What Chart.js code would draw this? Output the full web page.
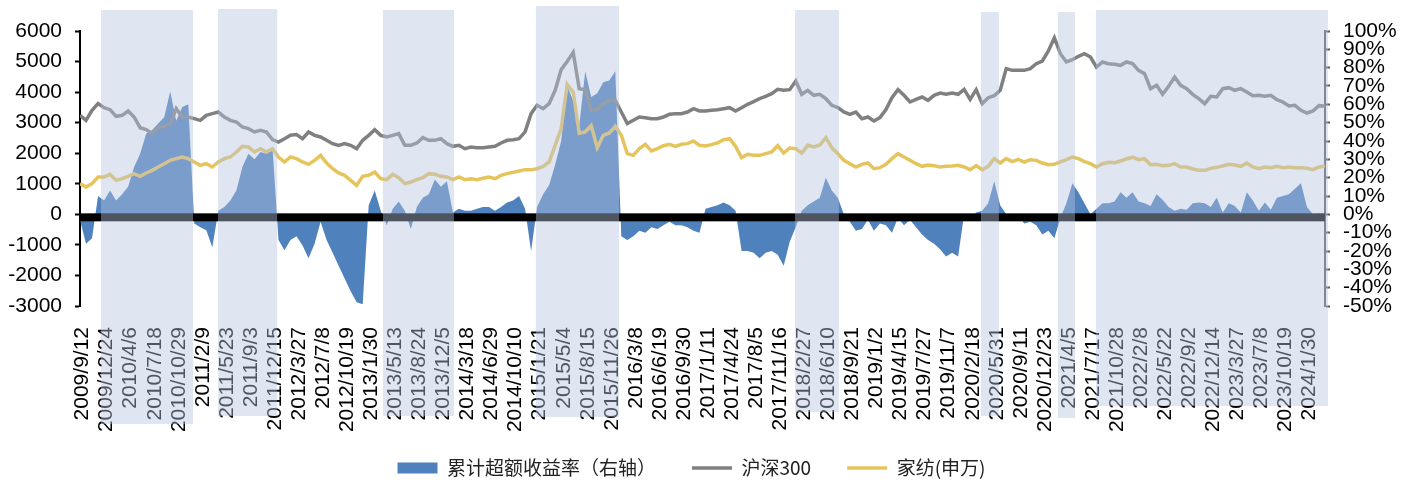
<!DOCTYPE html>
<html>
<head>
<meta charset="utf-8">
<script src="https://cdn.jsdelivr.net/npm/chart.js@4.4.1/dist/chart.umd.min.js"></script>
<style>
  html, body { margin: 0; padding: 0; background: #fff; }
</style>
</head>
<body>
<canvas id="excessChart" width="1411" height="481"></canvas>
<script>
// x-axis labels, one every 103 days
const dateLabels = ['2009/9/12', '2009/12/24', '2010/4/6', '2010/7/18', '2010/10/29', '2011/2/9', '2011/5/23',
  '2011/9/3', '2011/12/15', '2012/3/27', '2012/7/8', '2012/10/19', '2013/1/30', '2013/5/13', '2013/8/24',
  '2013/12/5', '2014/3/18', '2014/6/29', '2014/10/10', '2015/1/21', '2015/5/4', '2015/8/15', '2015/11/26',
  '2016/3/8', '2016/6/19', '2016/9/30', '2017/1/11', '2017/4/24', '2017/8/5', '2017/11/16', '2018/2/27',
  '2018/6/10', '2018/9/21', '2019/1/2', '2019/4/15', '2019/7/27', '2019/11/7', '2020/2/18', '2020/5/31',
  '2020/9/11', '2020/12/23', '2021/4/5', '2021/7/17', '2021/10/28', '2022/2/8', '2022/5/22', '2022/9/2',
  '2022/12/14', '2023/3/27', '2023/7/8', '2023/10/19', '2024/1/30'];

// one reading every 25.75 days (4 per label step), first one on 2009/9/1
const firstReading = '2009/9/1';
const readingStep = 25.75;

// 沪深300 index level (left axis)
const hs300 = [
  3240, 3076, 3404, 3622, 3491, 3426, 3207, 3240, 3382, 3185, 2836, 2771, 2640, 2836, 2880, 2967, 3458, 3185,
  3185, 3131, 3076, 3240, 3295, 3349, 3185, 3076, 3022, 2858, 2804, 2695, 2749, 2695, 2444, 2367, 2476,
  2586, 2610, 2476, 2695, 2586, 2531, 2422, 2313, 2258, 2313, 2258, 2149, 2422, 2586, 2771, 2586, 2531,
  2586, 2640, 2258, 2258, 2335, 2509, 2422, 2422, 2476, 2313, 2226, 2258, 2149, 2204, 2182, 2182, 2204,
  2226, 2335, 2422, 2444, 2476, 2700, 3295, 3568, 3458, 3622, 4059, 4735, 5000, 5300, 4113, 4080, 3404,
  3426, 3622, 3731, 3731, 3349, 2968, 3077, 3186, 3164, 3131, 3131, 3186, 3273, 3295, 3295, 3349, 3458, 3382,
  3382, 3404, 3426, 3458, 3491, 3382, 3491, 3600, 3687, 3786, 3862, 3949, 4091, 4059, 4080, 4364, 3928,
  4059, 3895, 3928, 3786, 3568, 3491, 3349, 3273, 3349, 3131, 3186, 3055, 3164, 3426, 3818, 4080, 3895, 3677,
  3764, 3840, 3731, 3895, 3971, 3928, 3971, 3928, 4091, 3764, 4080, 3622, 3818, 3884, 4059, 4768, 4713,
  4713, 4713, 4768, 4931, 5018, 5346, 5780, 5258, 4986, 5062, 5171, 5258, 5149, 4822, 4986, 4931, 4909,
  4877, 4986, 4931, 4713, 4604, 4113, 4222, 3928, 4189, 4495, 4222, 4113, 3928, 3786, 3622, 3862, 3840,
  4113, 4146, 4059, 4113, 4004, 3884, 3895, 3862, 3895, 3753, 3677, 3546, 3568, 3404, 3316, 3382, 3557, 3546];

// 家纺(申万) index level (left axis)
const homeTextile = [
  1004, 895, 1004, 1222, 1222, 1309, 1113, 1167, 1244, 1331, 1244, 1353, 1440, 1549, 1658, 1767, 1822, 1876,
  1822, 1713, 1604, 1658, 1549, 1713, 1822, 1876, 2040, 2226, 2204, 2040, 2149, 2040, 2149, 1876, 1713,
  1876, 1822, 1713, 1636, 1767, 1931, 1680, 1494, 1353, 1276, 1113, 949, 1244, 1276, 1385, 1167, 1135,
  1309, 1200, 1004, 1058, 1135, 1200, 1331, 1309, 1244, 1222, 1135, 1222, 1135, 1167, 1135, 1180, 1222,
  1167, 1276, 1331, 1374, 1418, 1462, 1462, 1494, 1571, 1713, 2258, 2804, 4250, 4000, 2650, 2700, 2900,
  2180, 2586, 2662, 2880, 2586, 1985, 1931, 2149, 2291, 2073, 2149, 2247, 2291, 2226, 2291, 2313, 2400, 2258,
  2236, 2280, 2335, 2444, 2476, 2226, 1855, 1964, 1931, 1931, 1985, 2040, 2247, 2007, 2171, 2149, 2007,
  2258, 2204, 2269, 2509, 2182, 1985, 1767, 1658, 1549, 1636, 1680, 1494, 1527, 1636, 1822, 1985, 1876, 1767,
  1658, 1571, 1614, 1593, 1549, 1571, 1582, 1604, 1549, 1462, 1593, 1462, 1571, 1822, 1680, 1822, 1724,
  1800, 1713, 1789, 1767, 1680, 1625, 1636, 1713, 1789, 1876, 1822, 1724, 1658, 1549, 1658, 1702, 1691,
  1745, 1811, 1876, 1789, 1822, 1625, 1636, 1593, 1604, 1658, 1549, 1549, 1483, 1440, 1440, 1505, 1538,
  1582, 1636, 1614, 1571, 1680, 1549, 1494, 1549, 1527, 1571, 1527, 1549, 1527, 1527, 1505, 1462, 1549, 1582];

// 累计超额收益率, % (right axis)
const excessReturn = [
  -3, -16, -13, 10, 7.6, 13, 7.6, 11, 15, 25.8, 33, 44, 46, 49.5, 53, 67, 51, 58.5,
  60, -5, -7, -8.7, -18, 2, 4, 7.6, 13, 25.8, 33, 30, 34, 33, 36.7, -14, -19.6,
  -14, -12, -17, -24, -16, -4, -14, -21, -28, -35, -42, -48, -49, 5, 13, 2, -6,
  3, 7, 2, -8, 4, 9, 11, 19, 15, 18, 1, 3, 2, 2, 3, 4, 4,
  2, 4, 6.5, 7.6, 10, 3, -20, 4, 11, 16, 27, 40, 70, 62, 48, 78, 64,
  66, 72, 73, 78, -12, -14, -12, -9, -10, -7, -8, -6, -4, -6, -6, -7, -9, -10,
  3, 4, 5, 6.5, 5, 2, -20, -20, -21, -24, -21, -20, -22, -28, -15, -7, 2,
  5, 7, 9, 20, 13, 9, 0, -4, -9, -8, -3, -9, -5, -6, -10, -2, -6, -3,
  -7, -11, -14, -16, -19, -23, -21, -23, 0, -2, 1, 2, 6, 18, 5, 0, -2,
  -1, -5, -4, -6, -11, -9, -13, -2, 6, 17, 12, 6, 0, 3, 6, 6, 7,
  12, 9, 12, 7, 6, 4.5, 11, 8, 4, 2, 3, 2.5, 6, 6.5, 6, 4, 9,
  1, 6, 4.5, 1, 12, 7.5, 2, 6.5, 2.5, 9, 10, 11, 14, 17, 4, 0, 0.5, 0.3];

// shaded periods
const shadePeriods = [
  ['2009/11/30', '2010/12/29'], ['2011/4/15', '2011/12/24'], ['2013/3/21', '2014/1/19'],
  ['2015/1/5', '2015/12/27'], ['2018/1/18', '2018/7/25'], ['2020/3/24', '2020/6/9'],
  ['2021/2/17', '2021/5/1'], ['2021/7/30', '2024/4/18']];

const BASE = Date.UTC(2009, 8, 12);
function dayOf(s) {
  const [y, m, d] = s.split('/').map(Number);
  return (Date.UTC(y, m - 1, d) - BASE) / 86400000;
}
const x0 = dayOf(firstReading);
const toPoints = arr => arr.map((v, i) => ({ x: x0 + i * readingStep, y: v }));

// vertical reach of each shaded band (px)
const bandTop = [10, 9, 10, 6, 10, 12, 12, 10];
const bandBottom = [424, 416, 416, 417, 412, 416, 418, 406];
const legendMid = 468;
const legendShift = -14;

const shadeBands = {
  id: 'shadeBands',
  afterLayout(chart) {
    // keep rotated date labels from being clipped by the legend box
    const xs = chart.scales.x;
    xs.bottom = xs.top + 125;
    const lg = chart.legend;
    const dy = legendMid - (lg.top + lg.options.labels.padding + lg.options.labels.font.size / 2);
    lg.top += dy;
    lg.bottom += dy;
    lg.left += legendShift;
    lg.right += legendShift;
  },
  afterDatasetsDraw(chart) {
    const { ctx, chartArea, scales } = chart;
    const zero = scales.y.getPixelForValue(0);
    ctx.save();
    // heavy zero line
    ctx.fillStyle = '#000';
    ctx.fillRect(chartArea.left, zero - 1, chartArea.right - chartArea.left, 8);
    ctx.fillStyle = 'rgba(181,195,223,0.43)';
    shadePeriods.forEach(([a, b], k) => {
      const xa = scales.x.getPixelForValue(dayOf(a));
      const xb = scales.x.getPixelForValue(dayOf(b));
      ctx.fillRect(xa, bandTop[k], xb - xa, bandBottom[k] - bandTop[k]);
    });
    ctx.restore();
  }
};

const tickFont = { family: "'Liberation Sans', Arial, sans-serif", size: 21 };

new Chart(document.getElementById('excessChart'), {
  type: 'line',
  data: {
    datasets: [{
      label: '累计超额收益率（右轴）',
      data: toPoints(excessReturn),
      yAxisID: 'y1',
      fill: 'origin',
      backgroundColor: 'rgb(79,129,189)',
      borderColor: 'rgba(0,0,0,0)',
      borderWidth: 0,
      pointRadius: 0,
      pointBorderWidth: 0,
      pointStyle: 'rect',
      order: 2
    }, {
      label: '沪深300',
      data: toPoints(hs300),
      yAxisID: 'y',
      borderColor: 'rgb(128,128,128)',
      backgroundColor: 'rgb(128,128,128)',
      borderWidth: 3.5,
      pointRadius: 0,
      pointBorderWidth: 3.5,
      pointStyle: 'line',
      order: 1
    }, {
      label: '家纺(申万)',
      data: toPoints(homeTextile),
      yAxisID: 'y',
      borderColor: 'rgb(230,196,92)',
      backgroundColor: 'rgb(230,196,92)',
      borderWidth: 3.5,
      pointRadius: 0,
      pointBorderWidth: 3.5,
      pointStyle: 'line',
      order: 1
    }]
  },
  options: {
    responsive: false,
    devicePixelRatio: 1,
    animation: false,
    layout: { padding: { top: 31, left: 0, right: 0, bottom: 0 } },
    plugins: {
      tooltip: { enabled: false },
      legend: {
        position: 'bottom',
        labels: {
          sort: (a, b) => a.datasetIndex - b.datasetIndex,
          usePointStyle: true,
          pointStyleWidth: 40,
          boxHeight: 11,
          padding: 36,
          color: '#222',
          font: { family: "'Noto Sans CJK SC', sans-serif", size: 19 }
        }
      }
    },
    scales: {
      x: {
        type: 'linear',
        bounds: 'data',
        min: x0,
        max: x0 + (hs300.length - 1) * readingStep,
        grid: { display: false },
        border: { display: false },
        afterBuildTicks: scale => {
          scale.ticks = dateLabels.map(s => ({ value: dayOf(s) }));
        },
        afterFit: scale => { scale.height = 110; },
        ticks: {
          autoSkip: false,
          minRotation: 90,
          maxRotation: 90,
          padding: 13,
          color: '#000',
          font: tickFont,
          callback: (v, i) => dateLabels[i]
        }
      },
      y: {
        position: 'left',
        min: -3000,
        max: 6000,
        afterFit: scale => { scale.width = 80; },
        border: { color: '#000', width: 2 },
        grid: { drawOnChartArea: false, tickLength: 5, tickWidth: 2, tickColor: '#000' },
        ticks: { stepSize: 1000, padding: 13, color: '#000', font: tickFont, callback: v => String(v) }
      },
      y1: {
        position: 'right',
        min: -50,
        max: 100,
        afterFit: scale => { scale.width = 86; },
        border: { color: '#595959', width: 2 },
        grid: { drawOnChartArea: false, tickLength: 5, tickWidth: 2, tickColor: '#595959' },
        ticks: {
          stepSize: 10,
          autoSkip: false,
          padding: 13,
          color: '#000',
          font: tickFont,
          callback: v => v + '%'
        }
      }
    }
  },
  plugins: [shadeBands]
});
</script>
</body>
</html>
